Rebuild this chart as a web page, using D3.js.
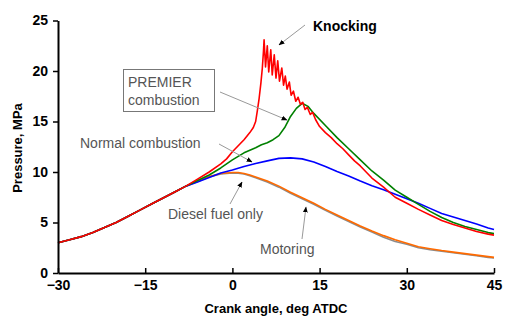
<!DOCTYPE html>
<html><head><meta charset="utf-8">
<script src="https://cdn.jsdelivr.net/npm/d3@7"></script>
<style>
html,body{margin:0;padding:0;background:#fff;}
svg text{font-family:"Liberation Sans",Arial,sans-serif;}
</style></head>
<body><svg id="c" width="505" height="322"></svg>
<script>
// Shared compression stroke (all cases overlap)
const compAngle = [-30,-28,-26,-24,-22,-20,-18,-16,-14,-12,-10,-8];
const compP     = [3.0,3.3,3.6,4.0,4.5,5.0,5.6,6.2,6.8,7.4,8.0,8.6];

// Motoring (gray)
const motAngle = [-6,-4,-2,0,1,2,3,4,6,8,10,12,14,16,18,20,22,24,26,28,30,32,34,36,38,40,42,44,45];
const motP     = [9.05,9.5,9.8,9.9,9.88,9.8,9.62,9.42,9.0,8.5,7.9,7.35,6.8,6.2,5.65,5.1,4.55,4.05,3.55,3.12,2.85,2.5,2.3,2.15,2.0,1.85,1.7,1.55,1.5];

// Diesel fuel only (orange)
const dieAngle = [-6,-4,-2,0,1,2,3,4,6,8,10,12,14,16,18,20,22,24,26,28,30,32,34,36,38,40,42,44,45];
const dieP     = [9.1,9.55,9.85,9.95,9.95,9.85,9.7,9.5,9.1,8.6,8.0,7.45,6.9,6.3,5.75,5.2,4.65,4.15,3.7,3.3,2.95,2.6,2.4,2.22,2.07,1.92,1.77,1.62,1.55];

// Normal combustion (blue)
const norAngle = [-6,-4,-2,0,2,4,6,8,10,12,14,16,18,20,22,24,26,28,30,32,34,36,38,40,42,44,45];
const norP     = [9.0,9.45,9.9,10.2,10.55,10.85,11.1,11.35,11.4,11.3,11.0,10.55,10.05,9.6,9.1,8.65,8.25,7.8,7.35,6.9,6.4,5.9,5.55,5.2,4.85,4.45,4.3];

// PREMIER combustion (green)
const preAngle = [-6,-4,-2,0,2,4,5,6,7,8,9,10,11,12,13,14,16,18,20,22,24,26,28,30,32,34,36,38,40,42,44,45];
const preP     = [9.15,9.7,10.4,11.2,11.9,12.4,12.7,12.9,13.2,13.6,14.4,15.5,16.3,16.8,16.5,15.8,14.6,13.4,12.3,11.2,10.1,9.2,8.2,7.5,6.8,6.1,5.5,5.0,4.6,4.3,4.0,3.9];

// Knocking (red)
const knoAngle = [-6,-4,-2,-1,0,1,2,3,3.6,4.0,4.3,4.6,4.9,5.15,5.35,5.45,5.7,6.0,6.25,6.6,6.85,7.2,7.5,7.8,8.1,8.5,8.8,9.1,9.4,9.8,10.1,10.5,10.9,11.3,11.7,12.1,12.5,12.9,13.4,13.8,14.3,15,16,17,18,19,20,21,22,23,24,26,28,30,32,34,36,38,40,42,44,45];
const knoP     = [9.3,10.0,10.8,11.3,12.0,12.6,13.2,13.9,14.4,15.0,16.1,17.3,18.8,20.3,22.0,23.1,20.4,22.5,19.9,22.1,19.6,21.6,19.3,21.0,19.0,20.3,18.6,19.5,18.2,18.9,17.6,18.0,17.0,17.4,16.7,16.9,16.2,16.4,15.7,15.9,15.2,14.5,13.9,13.4,12.8,12.3,11.7,11.1,10.6,10.0,9.4,8.5,7.5,6.9,6.3,5.75,5.2,4.8,4.45,4.1,3.85,3.75];

const xTicks = [-30,-15,0,15,30,45];
const yTicks = [0,5,10,15,20,25];

const svg = d3.select("#c");
const x = d3.scaleLinear().domain([-30,45]).range([58,494]);
const y = d3.scaleLinear().domain([0,25]).range([273,20.5]);

function build(a,p){
  const pts = compAngle.map((v,i)=>[v,compP[i]]);
  a.forEach((v,i)=>pts.push([v,p[i]]));
  return pts;
}
const series = [
  {pts:build(motAngle,motP), color:"#8c8c8c"},
  {pts:build(dieAngle,dieP), color:"#ff6a00"},
  {pts:build(norAngle,norP), color:"#0000ff"},
  {pts:build(preAngle,preP), color:"#008000"},
  {pts:build(knoAngle,knoP), color:"#ff0000"}
];
const line = d3.line().x(d=>x(d[0])).y(d=>y(d[1]));
svg.append("g").selectAll("path").data(series).join("path")
  .attr("d",d=>line(d.pts)).attr("fill","none")
  .attr("stroke",d=>d.color).attr("stroke-width",1.6).attr("stroke-linejoin","round");

// Axes
const yAxis = svg.append("g").attr("transform","translate(58,0)")
  .call(d3.axisLeft(y).tickValues(yTicks).tickSize(5).tickSizeOuter(0).tickPadding(5));
const xAxis = svg.append("g").attr("transform","translate(0,273)")
  .call(d3.axisBottom(x).tickValues(xTicks).tickSizeInner(-5).tickSizeOuter(0).tickPadding(7));
[yAxis,xAxis].forEach(g=>{
  g.select(".domain").attr("stroke","#000").attr("stroke-width",2);
  g.selectAll(".tick line").attr("stroke","#000").attr("stroke-width",1.5);
  g.selectAll(".tick text").attr("font-size",14).attr("font-weight","bold").attr("fill","#000")
   .attr("font-family","'Liberation Sans',Arial,sans-serif");
});

svg.append("text").attr("x",276).attr("y",313).attr("text-anchor","middle")
  .attr("font-size",13).attr("font-weight","bold").text("Crank angle, deg ATDC");
svg.append("text").attr("transform","translate(22,148) rotate(-90)").attr("text-anchor","middle")
  .attr("font-size",13).attr("font-weight","bold").text("Pressure, MPa");

// Annotations
const defs = svg.append("defs");
defs.append("marker").attr("id","ah").attr("viewBox","0 0 10 10").attr("refX",9).attr("refY",5)
  .attr("markerWidth",6).attr("markerHeight",6).attr("orient","auto")
  .append("path").attr("d","M0,1 L10,5 L0,9 Z").attr("fill","#000");

function arrow(x1,y1,x2,y2){
  svg.append("line").attr("x1",x1).attr("y1",y1).attr("x2",x2).attr("y2",y2)
    .attr("stroke","#999").attr("stroke-width",1).attr("marker-end","url(#ah)");
}
arrow(305,25,279,45);
arrow(220,92,287,120);
arrow(219,144,252,162);
arrow(230,204,242,182);
arrow(302,239,306,207);

svg.append("text").attr("x",313).attr("y",31).attr("font-size",14).attr("font-weight",600)
  .attr("font-family","'Open Sans',sans-serif").attr("fill","#000").text("Knocking");
svg.append("rect").attr("x",123.5).attr("y",69.5).attr("width",91).attr("height",42)
  .attr("fill","#fff").attr("stroke","#777").attr("stroke-width",1);
svg.append("text").attr("x",128).attr("y",87).attr("font-size",14).attr("fill","#555").text("PREMIER");
svg.append("text").attr("x",128).attr("y",105).attr("font-size",14).attr("fill","#555").text("combustion");
svg.append("text").attr("x",80).attr("y",148).attr("font-size",14).attr("fill","#555").text("Normal combustion");
svg.append("text").attr("x",168).attr("y",219).attr("font-size",14).attr("fill","#555").text("Diesel fuel only");
svg.append("text").attr("x",260).attr("y",254).attr("font-size",14).attr("fill","#555").text("Motoring");
</script></body></html>
